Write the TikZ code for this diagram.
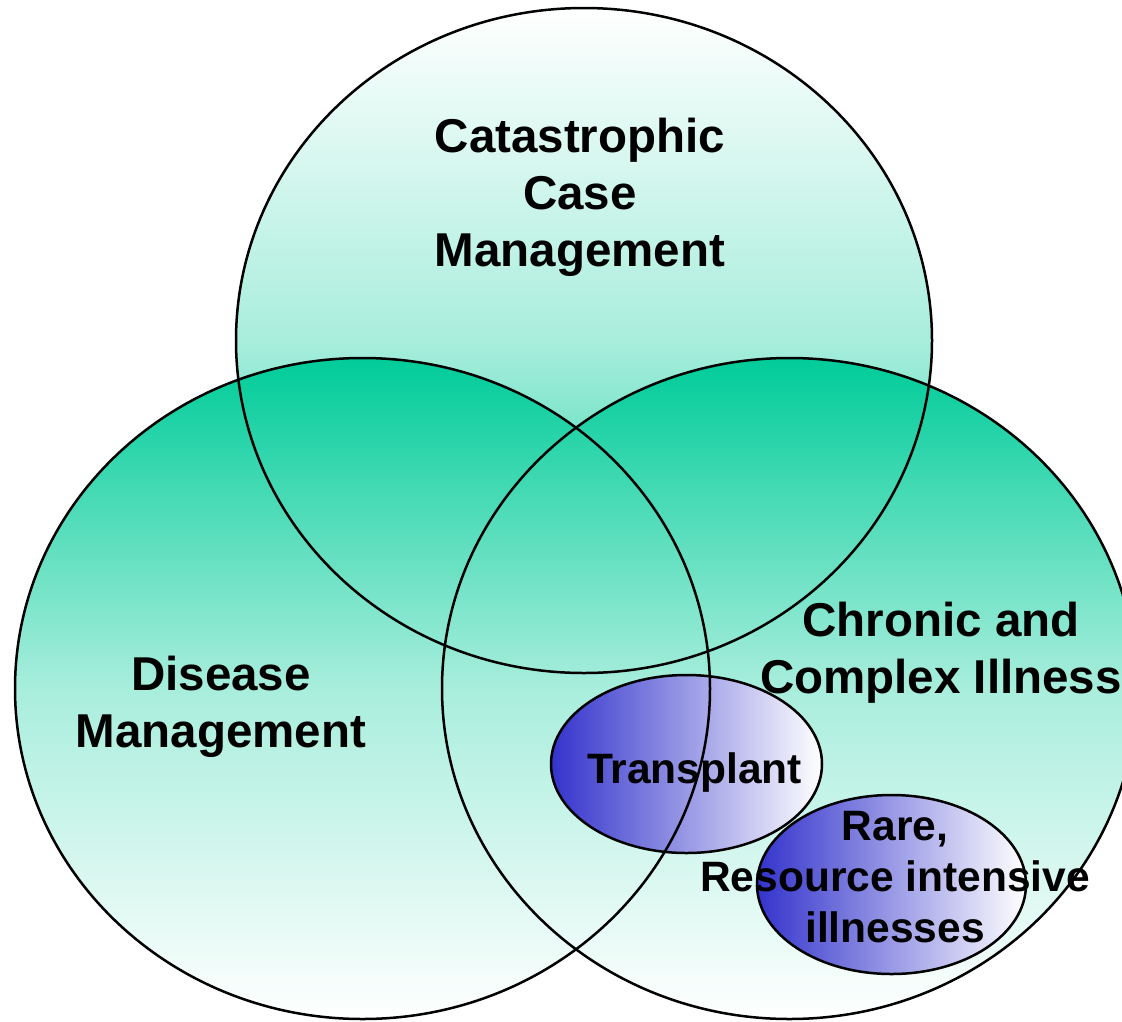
\documentclass[tikz,border=0pt]{standalone}
\usepackage{fontspec}
\setmainfont{Liberation Sans}
\definecolor{vgreen}{RGB}{0,204,153}
\definecolor{vblue}{RGB}{51,51,204}
\begin{document}
\begin{tikzpicture}[x=1pt,y=-1pt,
  outline/.style={line width=2.5pt, draw=black},
  greendown/.style={top color=vgreen, bottom color=white, middle color=vgreen!34!white},
  greenup/.style={top color=white, bottom color=vgreen, middle color=vgreen!34!white},
  bluefade/.style={left color=vblue, right color=white},
  lbl/.style={font=\bfseries\fontsize{47.5}{57}\selectfont, align=center, inner sep=0pt},
  slbl/.style={font=\bfseries\fontsize{42.5}{51}\selectfont, align=center, inner sep=0pt}]
\useasboundingbox (0,0) rectangle (1122,1021);
% fills
\shade[greenup] (584,340.5) ellipse [x radius=348, y radius=332.5];
\shade[greendown] (362.5,688.5) ellipse [x radius=347.5, y radius=330.5];
\shade[greendown] (789.5,688.5) ellipse [x radius=347.5, y radius=330.5];
\shade[bluefade] (686.5,764) ellipse [x radius=135.5, y radius=89];
\shade[bluefade] (891.5,884.5) ellipse [x radius=134.5, y radius=89.5];
% outlines
\draw[outline] (686.5,764) ellipse [x radius=135.5, y radius=89];
\draw[outline] (891.5,884.5) ellipse [x radius=134.5, y radius=89.5];
\draw[outline] (584,340.5) ellipse [x radius=348, y radius=332.5];
\draw[outline] (362.5,688.5) ellipse [x radius=347.5, y radius=330.5];
\draw[outline] (789.5,688.5) ellipse [x radius=347.5, y radius=330.5];
% labels
\node[lbl] (cat) at (580,197) {Catastrophic\\Case\\Management};
\node[lbl] (dis) at (221,707) {Disease\\Management};
\node[lbl] (chr) at (941,652.5) {Chronic and\\Complex Illness};
\node[slbl] (tra) at (694.5,772) {Transplant};
\node[slbl] (rar) at (895,877.5) {Rare,\\Resource intensive\\illnesses};
\end{tikzpicture}
\end{document}
